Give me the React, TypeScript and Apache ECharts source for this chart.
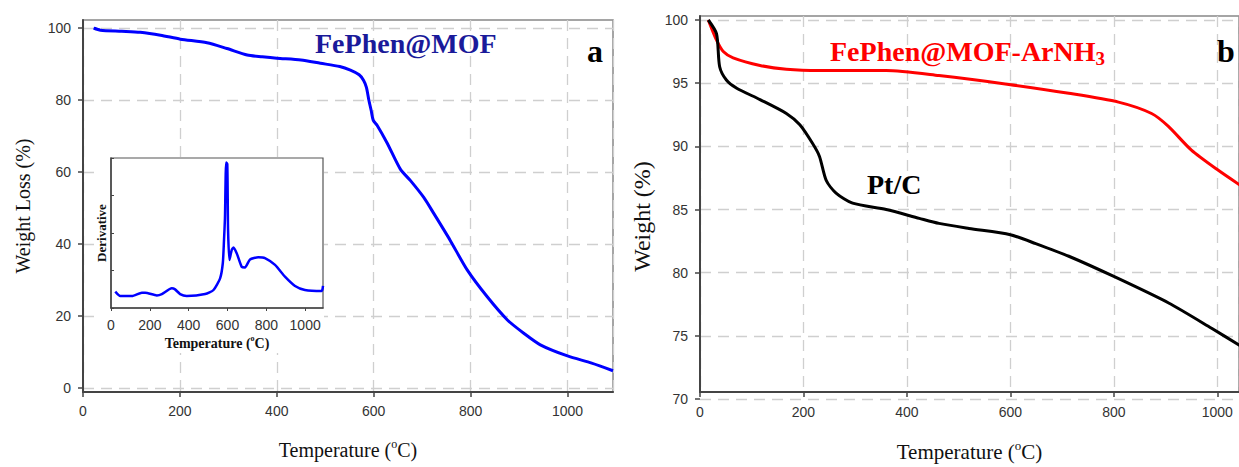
import React, { useEffect, useRef } from "react";
import * as echarts from "echarts";

// Panel a: TGA of FePhen@MOF
const tgaTemp = [22, 36, 80, 118, 160, 201, 256, 297, 339, 370, 400, 450, 490, 530, 552, 570, 579, 585, 590, 595, 599, 607, 628, 655, 676, 703, 724, 758, 793, 834, 876, 910, 944, 1000, 1050, 1094];
const tgaVal = [100, 99.4, 99.1, 98.8, 98, 96.9, 95.9, 94.3, 92.5, 92, 91.6, 91.1, 90.2, 89.3, 88.3, 87, 85.5, 83.5, 80, 77, 74.4, 73, 68, 60.8, 57.6, 53, 48.5, 41, 32.8, 25.4, 18.9, 15.2, 12, 8.9, 6.9, 4.8];

// Inset: derivative
const dtgTemp = [22, 48, 108, 159, 176, 236, 262, 313, 330, 356, 390, 485, 528, 562, 576, 582, 587, 593, 599, 603, 610, 622, 631, 648, 673, 690, 716, 759, 793, 845, 896, 948, 999, 1085, 1092];
const dtgVal = [10.9, 8, 8, 10.2, 10.2, 8.4, 9.3, 13.1, 12.4, 9.3, 8, 9.3, 12, 19.8, 30, 45, 60, 97, 96, 52, 32, 38.7, 40.4, 36.4, 27.5, 27, 32.4, 33.8, 33.3, 28.7, 20.9, 14.7, 12, 11.3, 14.7];

// Panel b
const redTemp = [16, 32, 45, 64, 116, 167, 231, 360, 462, 597, 713, 809, 873, 905, 950, 1002, 1045];
const redVal = [100, 98.4, 97.5, 97, 96.4, 96.1, 96.0, 96.0, 95.6, 94.9, 94.2, 93.5, 92.6, 91.6, 89.7, 88.1, 86.9];
const blackTemp = [16, 32, 38, 51, 71, 116, 167, 193, 218, 231, 244, 263, 295, 360, 424, 462, 520, 600, 649, 713, 800, 906, 989, 1045];
const blackVal = [100, 98.9, 96.3, 95.25, 94.6, 93.7, 92.6, 91.7, 90.2, 89.2, 87.3, 86.3, 85.5, 85.0, 84.3, 83.9, 83.5, 83.0, 82.3, 81.3, 79.7, 77.6, 75.6, 74.2];

const leftYTicks = { min: 0, max: 100, interval: 20 };
const rightYTicks = { min: 70, max: 100, interval: 5 };

const SERIF = "'Liberation Serif', 'Times New Roman', serif";
const SANS = "'Liberation Sans', Arial, sans-serif";

const pairs = (xs: number[], ys: number[]) => xs.map((x, i) => [x, ys[i]]);
const plain = (v: number) => String(v);

const tempName = (size: number, bold: boolean) => ({
  name: "{n|Temperature (}{s|o}{n|C)}",
  nameTextStyle: {
    rich: {
      n: { fontFamily: SERIF, fontSize: size, fontWeight: bold ? "bold" : "normal", color: "#111", lineHeight: size + 4 },
      s: { fontFamily: SERIF, fontSize: Math.round(size * 0.6), fontWeight: bold ? "bold" : "normal", color: "#111", lineHeight: Math.round(size * 0.7), verticalAlign: "top" },
    },
  },
});

const grid = "#cfcfcf";
const dash = { color: grid, type: [11, 7] as any, width: 1.3 };

export default function App() {
  const ref = useRef<HTMLDivElement>(null);
  useEffect(() => {
    const chart = echarts.init(ref.current!, null, { renderer: "svg" });
    const option: any = {
      animation: false,
      backgroundColor: "#fff",
      grid: [
        { left: 83, right: 626, top: 20, bottom: 75, show: true, borderColor: "#888", borderWidth: 1.5 },
        { left: 83, right: 626, top: 28, bottom: 79 },
        { left: 111, right: 1239 - 323, top: 158, bottom: 467 - 308, show: true, borderColor: "#555", borderWidth: 1.2, z: 6 },
        { left: 700, right: -2, top: 16, bottom: 68, show: true, borderColor: "#888", borderWidth: 1.5 },
        { left: 700, right: -2, top: 20, bottom: 68 },
      ],
      xAxis: [
        {
          gridIndex: 0, type: "value", min: 0, max: 1094, interval: 200,
          axisLine: { show: true, onZero: false, lineStyle: { color: "#444", width: 2 } },
          axisTick: { show: true, length: 5, lineStyle: { color: "#444", width: 1.5 } },
          axisLabel: { fontFamily: SANS, fontSize: 14, color: "#333", margin: 12, showMaxLabel: false, formatter: plain },
          splitLine: { show: true, lineStyle: dash },
          nameLocation: "middle", nameGap: 46,
          ...tempName(20, false),
        },
        { gridIndex: 1, type: "value", min: 0, max: 1094, show: false },
        {
          gridIndex: 2, type: "value", min: 0, max: 1092, interval: 200, z: 7,
          axisLine: { show: true, onZero: false, lineStyle: { color: "#444", width: 1.5 } },
          axisTick: { show: true, length: 3, lineStyle: { color: "#444" } },
          axisLabel: { fontFamily: SANS, fontSize: 14, color: "#333", margin: 10, showMaxLabel: false, formatter: plain },
          splitLine: { show: false },
          nameLocation: "middle", nameGap: 26,
          ...tempName(14, true),
        },
        {
          gridIndex: 3, type: "value", min: 0, max: 1042, interval: 200,
          axisLine: { show: true, onZero: false, lineStyle: { color: "#444", width: 2 } },
          axisTick: { show: true, length: 5, lineStyle: { color: "#444", width: 1.5 } },
          axisLabel: { fontFamily: SANS, fontSize: 14, color: "#333", margin: 13, showMaxLabel: false, formatter: plain },
          splitLine: { show: true, lineStyle: dash },
          nameLocation: "middle", nameGap: 47,
          ...tempName(21, false),
        },
        { gridIndex: 4, type: "value", min: 0, max: 1042, show: false },
      ],
      yAxis: [
        {
          gridIndex: 0, type: "value", min: 0, max: 1,
          axisLine: { show: true, onZero: false, lineStyle: { color: "#444", width: 2 } },
          axisTick: { show: false }, axisLabel: { show: false }, splitLine: { show: false },
          name: "Weight Loss (%)", nameLocation: "middle", nameGap: 50,
          nameTextStyle: { fontFamily: SERIF, fontSize: 20, color: "#111" },
        },
        {
          gridIndex: 1, type: "value", ...leftYTicks,
          axisLine: { show: false },
          axisTick: { show: true, length: 5, lineStyle: { color: "#444", width: 1.5 } },
          axisLabel: { fontFamily: SANS, fontSize: 14, color: "#333", margin: 12 },
          splitLine: { show: true, lineStyle: dash },
        },
        {
          gridIndex: 2, type: "value", min: 0, max: 100, interval: 25, z: 7,
          axisLine: { show: true, onZero: false, lineStyle: { color: "#444", width: 1.5 } },
          axisTick: { show: true, inside: true, length: 3, lineStyle: { color: "#444" } },
          axisLabel: { show: false }, splitLine: { show: false },
          name: "Derivative", nameLocation: "middle", nameGap: 3,
          nameTextStyle: { fontFamily: SERIF, fontSize: 13, fontWeight: "bold", color: "#111" },
        },
        {
          gridIndex: 3, type: "value", min: 0, max: 1,
          axisLine: { show: true, onZero: false, lineStyle: { color: "#444", width: 2 } },
          axisTick: { show: false }, axisLabel: { show: false }, splitLine: { show: false },
        },
        {
          gridIndex: 4, type: "value", ...rightYTicks,
          axisLine: { show: false },
          axisTick: { show: true, length: 5, lineStyle: { color: "#444", width: 1.5 } },
          axisLabel: { fontFamily: SANS, fontSize: 14, color: "#333", margin: 12 },
          splitLine: { show: true, lineStyle: dash },
          name: "Weight (%)", nameLocation: "middle", nameGap: 46,
          nameTextStyle: { fontFamily: SERIF, fontSize: 24, color: "#111", padding: [0, 14, 0, 0] },
        },
      ],
      graphic: [
        { type: "rect", z: 5, shape: { x: 97, y: 157, width: 227, height: 196 }, style: { fill: "#fff" } },
        { type: "text", z: 10, x: 315, y: 43, style: { text: "FePhen@MOF", fontFamily: SERIF, fontSize: 28, fontWeight: "bold", fill: "#1a1a9a", verticalAlign: "middle" } },
        { type: "text", z: 10, x: 587, y: 51, style: { text: "a", fontFamily: SERIF, fontSize: 32, fontWeight: "bold", fill: "#000", verticalAlign: "middle" } },
        {
          type: "text", z: 10, x: 830, y: 51,
          style: {
            text: "{m|FePhen@MOF-ArNH}{d|3}", verticalAlign: "middle",
            rich: {
              m: { fontFamily: SERIF, fontSize: 28, fontWeight: "bold", fill: "#ff0000", color: "#ff0000", lineHeight: 34 },
              d: { fontFamily: SERIF, fontSize: 19, fontWeight: "bold", fill: "#ff0000", color: "#ff0000", lineHeight: 23, verticalAlign: "bottom" },
            },
          },
        },
        { type: "text", z: 10, x: 1217, y: 51, style: { text: "b", fontFamily: SERIF, fontSize: 32, fontWeight: "bold", fill: "#000", verticalAlign: "middle" } },
        { type: "text", z: 10, x: 867, y: 184, style: { text: "Pt/C", fontFamily: SERIF, fontSize: 28, fontWeight: "bold", fill: "#000", verticalAlign: "middle" } },
      ],
      series: [
        {
          type: "line", xAxisIndex: 1, yAxisIndex: 1, data: pairs(tgaTemp, tgaVal),
          smooth: 0.25, showSymbol: false, lineStyle: { color: "#0000ff", width: 3 }, z: 3,
        },
        {
          type: "line", xAxisIndex: 2, yAxisIndex: 2, data: pairs(dtgTemp, dtgVal),
          smooth: 0.2, showSymbol: false, lineStyle: { color: "#0000ff", width: 2.5 }, z: 8,
        },
        {
          type: "line", xAxisIndex: 4, yAxisIndex: 4, data: pairs(redTemp, redVal),
          smooth: 0.25, showSymbol: false, lineStyle: { color: "#ff0000", width: 3 }, z: 3,
        },
        {
          type: "line", xAxisIndex: 4, yAxisIndex: 4, data: pairs(blackTemp, blackVal),
          smooth: 0.25, showSymbol: false, lineStyle: { color: "#000", width: 3 }, z: 3,
        },
      ],
    };
    chart.setOption(option);
    return () => chart.dispose();
  }, []);
  return <div ref={ref} style={{ position: "fixed", left: 0, top: 0, width: 1239, height: 467, background: "#fff" }} />;
}
